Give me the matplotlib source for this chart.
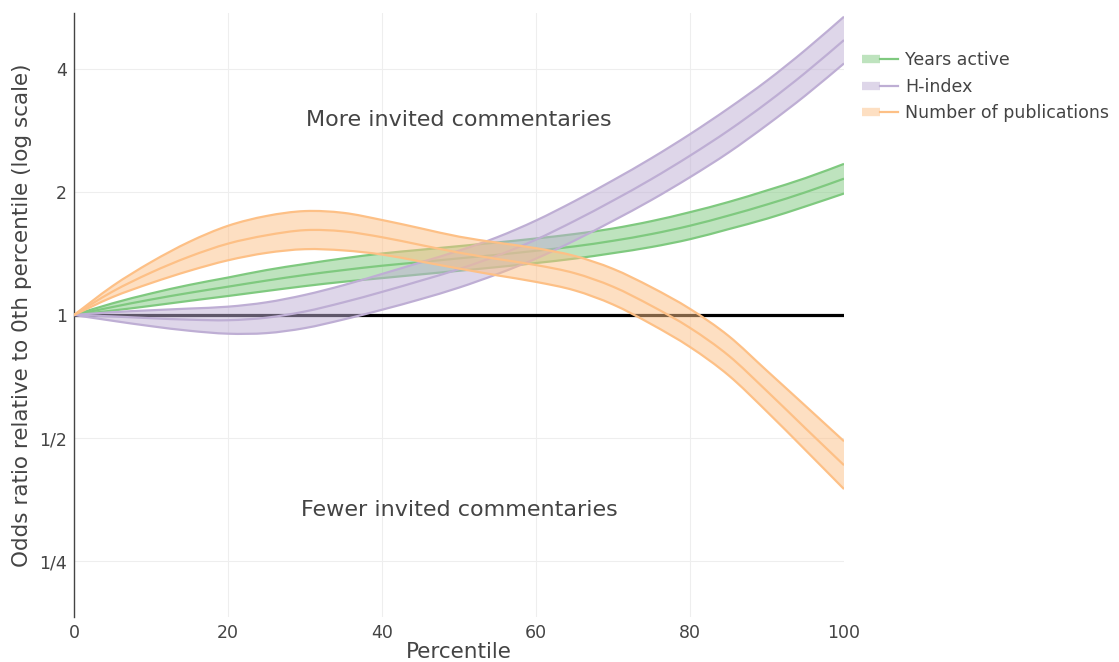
import math
import matplotlib
matplotlib.use("Agg")
import matplotlib.pyplot as plt
from matplotlib.lines import Line2D
from matplotlib.path import Path
from matplotlib.patches import PathPatch
from matplotlib.legend_handler import HandlerTuple

# ---------------- data ----------------
percentile = [0, 5, 10, 15, 20, 25, 30, 35, 40, 45, 50, 55, 60, 65, 70, 75, 80, 85, 90, 95, 100]

years_mid = [1, 1.046, 1.091, 1.133, 1.173, 1.214, 1.253, 1.288, 1.320, 1.347, 1.376, 1.404,
             1.436, 1.472, 1.519, 1.578, 1.654, 1.751, 1.864, 1.997, 2.156]
years_lo = [1, 1.025, 1.053, 1.083, 1.113, 1.145, 1.177, 1.206, 1.231, 1.257, 1.283, 1.310,
            1.340, 1.374, 1.417, 1.467, 1.533, 1.622, 1.721, 1.844, 1.983]
years_hi = [1, 1.068, 1.129, 1.185, 1.235, 1.288, 1.333, 1.376, 1.414, 1.444, 1.474, 1.505,
            1.539, 1.578, 1.628, 1.697, 1.785, 1.890, 2.018, 2.163, 2.343]

hindex_mid = [1, 0.992, 0.982, 0.974, 0.971, 0.985, 1.020, 1.074, 1.139, 1.213, 1.295, 1.398,
              1.529, 1.699, 1.905, 2.151, 2.454, 2.828, 3.306, 3.918, 4.707]
hindex_lo = [1, 0.968, 0.939, 0.915, 0.900, 0.903, 0.929, 0.975, 1.030, 1.093, 1.167, 1.260,
             1.374, 1.521, 1.700, 1.912, 2.174, 2.497, 2.918, 3.446, 4.127]
hindex_hi = [1, 1.016, 1.027, 1.037, 1.048, 1.074, 1.120, 1.183, 1.260, 1.345, 1.437, 1.551,
             1.703, 1.899, 2.136, 2.420, 2.770, 3.204, 3.745, 4.454, 5.370]

pubs_mid = [1, 1.141, 1.270, 1.390, 1.495, 1.567, 1.613, 1.602, 1.550, 1.484, 1.421, 1.371,
            1.325, 1.266, 1.173, 1.053, 0.930, 0.796, 0.651, 0.528, 0.429]
pubs_lo = [1, 1.106, 1.197, 1.283, 1.361, 1.419, 1.449, 1.439, 1.406, 1.352, 1.299, 1.250,
           1.205, 1.149, 1.061, 0.949, 0.835, 0.712, 0.580, 0.467, 0.375]
pubs_hi = [1, 1.177, 1.347, 1.511, 1.653, 1.747, 1.796, 1.778, 1.708, 1.630, 1.555, 1.503,
           1.457, 1.395, 1.297, 1.169, 1.035, 0.889, 0.730, 0.599, 0.491]

series_names = ["Years active", "H-index", "Number of publications"]
series_colors = ["#7fc97f", "#beaed4", "#fdc086"]

xticks = [0, 20, 40, 60, 80, 100]
yticks = [0.25, 0.5, 1, 2, 4]
ytick_labels = ["1/4", "1/2", "1", "2", "4"]


# ------------- smooth (spline-shaped) rendering through the data points -------------
def spline_segments(xs, ys):
    """Bezier vertices (Catmull-Rom) through the given points, in log-y space."""
    pts = [(x, math.log2(y)) for x, y in zip(xs, ys)]
    n = len(pts)
    verts = []
    for i in range(n - 1):
        p0 = pts[max(i - 1, 0)]
        p1 = pts[i]
        p2 = pts[i + 1]
        p3 = pts[min(i + 2, n - 1)]
        c1 = (p1[0] + (p2[0] - p0[0]) / 6, p1[1] + (p2[1] - p0[1]) / 6)
        c2 = (p2[0] - (p3[0] - p1[0]) / 6, p2[1] - (p3[1] - p1[1]) / 6)
        verts += [c1, c2, p2]
    conv = lambda p: (p[0], 2 ** p[1])
    return conv(pts[0]), [conv(v) for v in verts]


def curve_path(xs, ys):
    start, verts = spline_segments(xs, ys)
    return Path([start] + verts, [Path.MOVETO] + [Path.CURVE4] * len(verts))


def band_path(xs, lo, hi):
    s1, v1 = spline_segments(xs, hi)
    s2, v2 = spline_segments(xs[::-1], lo[::-1])
    verts = [s1] + v1 + [s2] + v2 + [s1]
    codes = ([Path.MOVETO] + [Path.CURVE4] * len(v1) + [Path.LINETO]
             + [Path.CURVE4] * len(v2) + [Path.CLOSEPOLY])
    return Path(verts, codes)


# ---------------- plot ----------------
plt.rcParams['font.family'] = ['DejaVu Sans']
TXT = "#444444"

fig = plt.figure(figsize=(11.19, 6.62), dpi=100)
ax = fig.add_axes([74 / 1119, 1 - 617 / 662, 770 / 1119, 604 / 662])

ax.set_yscale('log')
ax.set_xlim(0, 100)
ax.set_ylim(2 ** -2.455, 2 ** 2.455)

# grid
for xv in xticks[1:-1]:
    ax.axvline(xv, color="#eeeeee", lw=0.8, zorder=0)
for yv in yticks:
    ax.axhline(yv, color="#eeeeee", lw=0.8, zorder=0)

ax.axhline(1, color="black", lw=2.3, zorder=1)

data = [(years_mid, years_lo, years_hi), (hindex_mid, hindex_lo, hindex_hi),
        (pubs_mid, pubs_lo, pubs_hi)]
handles = []
for i, ((mid, lo, hi), name, col) in enumerate(zip(data, series_names, series_colors)):
    z = 2 + i
    ax.add_patch(PathPatch(band_path(percentile, lo, hi), facecolor=col, alpha=0.5,
                           lw=0, zorder=z))
    for ser in (lo, hi, mid):
        ax.add_patch(PathPatch(curve_path(percentile, ser), facecolor='none',
                               edgecolor=col, lw=1.6, zorder=z + 0.1))
    h1 = Line2D([], [], color=col, alpha=0.5, lw=6, solid_capstyle='butt')
    h2 = Line2D([], [], color=col, lw=1.6)
    handles.append((h1, h2))

ax.text(50, 3.0, "More invited commentaries", ha='center', va='center',
        fontsize=16, color=TXT)
ax.text(50, 1 / 3, "Fewer invited commentaries", ha='center', va='center',
        fontsize=16, color=TXT)

ax.set_xticks(xticks)
ax.set_xticklabels([str(v) for v in xticks])
ax.set_yticks(yticks)
ax.set_yticklabels(ytick_labels)
ax.minorticks_off()
ax.tick_params(axis='both', length=0, labelsize=12.5, labelcolor=TXT)
ax.tick_params(axis='x', pad=5)
ax.tick_params(axis='y', pad=5)

ax.set_xlabel("Percentile", fontsize=15.5, color=TXT, labelpad=0)
ax.set_ylabel("Odds ratio relative to 0th percentile (log scale)", fontsize=15.5,
              color=TXT, labelpad=5)

for s in ['top', 'right', 'bottom']:
    ax.spines[s].set_visible(False)
ax.spines['left'].set_color(TXT)
ax.spines['left'].set_linewidth(1)

leg = fig.legend(handles, series_names, loc='upper left',
                 bbox_to_anchor=(862 / 1119, 1 - 51 / 662), frameon=False,
                 fontsize=12.5, handlelength=2.1, handletextpad=0.4,
                 labelspacing=0.5, borderaxespad=0, borderpad=0,
                 handler_map={tuple: HandlerTuple(ndivide=None)})
for t in leg.get_texts():
    t.set_color(TXT)

fig.savefig("out.png", dpi=100)
